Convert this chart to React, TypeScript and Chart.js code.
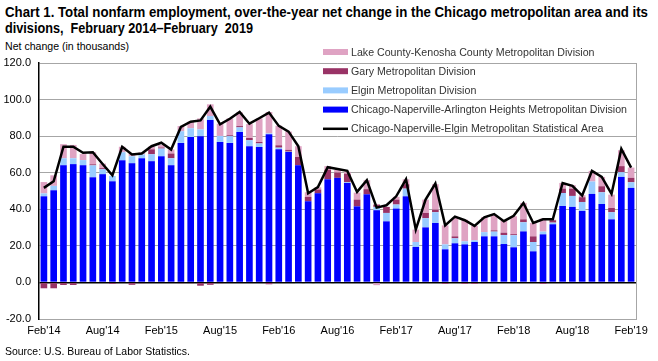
import React, { useEffect, useLayoutEffect, useRef } from "react";
import { Chart, registerables } from "chart.js";

Chart.register(...registerables);

const categories = [
  "Feb'14", "Mar'14", "Apr'14", "May'14", "Jun'14", "Jul'14", "Aug'14", "Sep'14", "Oct'14", "Nov'14", "Dec'14",
  "Jan'15", "Feb'15", "Mar'15", "Apr'15", "May'15", "Jun'15", "Jul'15", "Aug'15", "Sep'15", "Oct'15", "Nov'15", "Dec'15",
  "Jan'16", "Feb'16", "Mar'16", "Apr'16", "May'16", "Jun'16", "Jul'16", "Aug'16", "Sep'16", "Oct'16", "Nov'16", "Dec'16",
  "Jan'17", "Feb'17", "Mar'17", "Apr'17", "May'17", "Jun'17", "Jul'17", "Aug'17", "Sep'17", "Oct'17", "Nov'17", "Dec'17",
  "Jan'18", "Feb'18", "Mar'18", "Apr'18", "May'18", "Jun'18", "Jul'18", "Aug'18", "Sep'18", "Oct'18", "Nov'18", "Dec'18",
  "Jan'19", "Feb'19",
];

const tickLabels = ["Feb'14", "Aug'14", "Feb'15", "Aug'15", "Feb'16", "Aug'16", "Feb'17", "Aug'17", "Feb'18", "Aug'18", "Feb'19"];

const chicagoArlington = [
  47.1, 50.4, 64.1, 64.7, 64.1, 57.5, 59.2, 55.3, 66.8, 65.2, 67.9,
  66.3, 69.0, 64.1, 76.3, 79.5, 80.0, 88.8, 76.8, 76.3, 82.2, 74.5, 74.0,
  81.1, 72.9, 71.3, 64.1, 44.4, 48.8, 56.4, 57.2, 54.4, 41.6, 48.2, 39.5,
  33.4, 40.4, 47.1, 19.4, 30.1, 32.5, 18.1, 21.4, 20.8, 22.1, 25.2, 25.2,
  21.0, 19.2, 27.9, 17.0, 26.3, 31.8, 41.8, 41.3, 39.1, 48.4, 42.9, 34.5,
  57.7, 51.7,
];

const elgin = [
  1.6, 2.4, 3.8, 3.2, 2.8, 6.5, 2.7, 2.9, 4.4, 3.8, 2.1,
  3.8, 4.2, 3.8, 6.4, 4.8, 3.7, 2.2, 3.3, 3.7, 2.6, 3.3, 2.0,
  0.4, 0.8, 0.2, -0.3, -0.3, -0.3, -0.3, -0.3, 0.4, 0.0, 0.0, 1.8,
  4.6, 2.2, 4.2, 2.7, 5.0, 5.9, 2.7, 2.7, 1.7, 0.9, 2.3, 2.6,
  4.9, 6.6, 5.0, 5.1, 1.5, 0.9, 7.1, 6.0, 4.9, 6.8, 6.4, 3.9,
  2.6, 3.1,
];

const gary = [
  -3.2, -3.2, -1.4, -1.4, 0.0, 0.6, 0.6, -0.8, 0.0, -1.3, -0.5,
  2.7, 0.6, 2.6, -0.5, -0.5, -1.8, -1.3, -0.5, 0.5, 0.7, 1.2, 0.8,
  -1.0, 1.3, 1.0, 4.5, 2.4, 2.0, 5.3, 2.9, 4.7, 3.7, 2.8, 1.3,
  3.3, 2.7, 2.4, 0.0, 2.9, 1.4, -0.8, 1.1, -0.8, -0.8, -0.5, 0.7,
  1.3, 0.6, 1.6, 3.1, -0.8, 1.3, 2.4, 4.0, 2.6, 0.0, 3.3, 2.3,
  3.3, 2.4,
];

const lakeKenosha = [
  6.2, 5.8, 7.7, 7.3, 3.3, 6.6, 2.5, 0.0, 3.0, 1.6, 1.1,
  1.5, 1.3, 2.2, 2.8, 3.6, 6.0, 6.4, 6.7, 9.2, 7.5, 7.6, 12.9,
  11.7, 10.7, 10.0, 5.9, 2.5, 1.2, 1.9, 1.4, 1.0, 3.8, 4.9, -1.5,
  0.0, 1.5, 2.7, 6.8, 7.3, 13.9, 10.4, 10.2, 11.8, 7.9, 8.2, 8.4,
  6.5, 9.8, 9.0, 7.3, 7.1, 0.3, 3.1, 1.9, 1.1, 5.8, 5.1, 7.3,
  8.7, 5.6,
];

const msaTotal = [
  51.7, 55.3, 74.2, 74.2, 70.9, 71.2, 64.8, 58.6, 74.2, 70.0, 70.5,
  74.5, 76.4, 72.7, 85.0, 87.9, 88.6, 96.1, 86.5, 89.5, 93.2, 86.8, 89.8,
  92.9, 85.6, 82.5, 74.5, 48.8, 52.1, 63.0, 62.0, 61.0, 49.5, 55.9, 40.9,
  42.2, 47.1, 56.4, 28.9, 45.3, 54.1, 31.2, 36.0, 34.0, 30.9, 35.6, 37.4,
  33.5, 36.4, 43.4, 32.5, 34.5, 34.5, 54.4, 52.8, 47.5, 61.0, 57.7, 48.4,
  73.0, 62.8,
];

const FONT = "'Liberation Sans', Arial, sans-serif";

const legendPlugin = {
  id: "customLegend",
  afterDraw(chart: any) {
    const ctx = chart.ctx;
    const ds = chart.data.datasets;
    // Lake, Gary, Elgin, Chicago-Arlington, MSA line
    const order = [3, 2, 1, 0, 4];
    const x0 = 323;
    const y0 = 52;
    const step = 19.2;
    ctx.save();
    ctx.font = "11px " + FONT;
    ctx.textBaseline = "middle";
    ctx.textAlign = "left";
    const w = ctx.measureText(ds[0].label).width;
    const sx = 276 / w;
    order.forEach((di: number, k: number) => {
      const d = ds[di];
      const y = y0 + k * step;
      if (d.type === "line") {
        ctx.strokeStyle = d.borderColor;
        ctx.lineWidth = 2.5;
        ctx.beginPath();
        ctx.moveTo(x0, y);
        ctx.lineTo(x0 + 25, y);
        ctx.stroke();
      } else {
        ctx.fillStyle = d.backgroundColor;
        ctx.fillRect(x0, y - 3, 25, 6);
      }
      ctx.save();
      ctx.translate(x0 + 28, y + 0.5);
      ctx.scale(sx, 1);
      ctx.fillStyle = "#333";
      ctx.fillText(d.label, 0, 0);
      ctx.restore();
    });
    ctx.restore();
  },
};

const borderPlugin = {
  id: "rightBorder",
  beforeDatasetsDraw(chart: any) {
    const { ctx, chartArea } = chart;
    ctx.save();
    ctx.strokeStyle = "#A6A6A6";
    ctx.lineWidth = 1;
    ctx.beginPath();
    ctx.moveTo(Math.round(chartArea.right) + 0.5, chartArea.top);
    ctx.lineTo(Math.round(chartArea.right) + 0.5, chartArea.bottom);
    ctx.stroke();
    ctx.restore();
  },
};

function FitText(props: { target: number; style: React.CSSProperties; children: React.ReactNode }) {
  const ref = useRef<HTMLSpanElement | null>(null);
  useLayoutEffect(() => {
    const el = ref.current;
    if (!el) return;
    el.style.transform = "none";
    const w = el.getBoundingClientRect().width;
    if (w > 0) el.style.transform = `scaleX(${props.target / w})`;
  }, [props.target]);
  return (
    <span
      ref={ref}
      style={{ position: "absolute", whiteSpace: "nowrap", transformOrigin: "0 0", display: "inline-block", ...props.style }}
    >
      {props.children}
    </span>
  );
}

export default function App() {
  const ref = useRef<HTMLCanvasElement | null>(null);

  useEffect(() => {
    if (!ref.current) return;
    const barCommon = {
      type: "bar" as const,
      stack: "bars",
      order: 1,
      barPercentage: 0.68,
      categoryPercentage: 1,
      borderWidth: 0,
    };
    const chart = new Chart(ref.current, {
      type: "bar",
      data: {
        labels: categories,
        datasets: [
          { ...barCommon, label: "Chicago-Naperville-Arlington Heights Metropolitan Division", data: chicagoArlington, backgroundColor: "#0000FF" },
          { ...barCommon, label: "Elgin Metropolitan Division", data: elgin, backgroundColor: "#99CCFF" },
          { ...barCommon, label: "Gary Metropolitan Division", data: gary, backgroundColor: "#993366" },
          { ...barCommon, label: "Lake County-Kenosha County Metropolitan Division", data: lakeKenosha, backgroundColor: "#DFA3C3" },
          {
            type: "line" as const,
            label: "Chicago-Naperville-Elgin Metropolitan Statistical Area",
            data: msaTotal,
            stack: "line",
            order: 0,
            borderColor: "#000000",
            backgroundColor: "#000000",
            borderWidth: 2.5,
            pointRadius: 0,
            tension: 0,
            fill: false,
          } as any,
        ],
      },
      options: {
        responsive: false,
        animation: false,
        devicePixelRatio: 1,
        layout: { padding: { left: 0, right: 22, top: 63, bottom: 22 } },
        plugins: {
          legend: { display: false },
          tooltip: { enabled: false },
          title: { display: false },
        },
        scales: {
          x: {
            stacked: true,
            grid: { display: false, drawTicks: false },
            border: { display: true, color: "#A6A6A6", width: 1 },
            ticks: {
              autoSkip: false,
              maxRotation: 0,
              minRotation: 0,
              padding: 5,
              color: "#000",
              font: { family: FONT, size: 11 },
              callback: (_v: any, i: number) => (tickLabels.includes(categories[i]) ? categories[i] : ""),
            },
            afterFit: (s: any) => { s.height = 20; },
          },
          y: {
            stacked: true,
            min: -20,
            max: 120,
            ticks: {
              stepSize: 20,
              padding: 8,
              color: "#000",
              font: { family: FONT, size: 11 },
              callback: (v: any) => Number(v).toFixed(1),
            },
            grid: {
              drawTicks: false,
              color: (c: any) => (c.tick && c.tick.value === 0 ? "#000000" : "#A6A6A6"),
              lineWidth: (c: any) => (c.tick && c.tick.value === 0 ? 1.5 : 1),
            },
            border: { display: true, color: "#000", width: 1.5 },
            afterFit: (s: any) => { s.width = 39; },
          },
        },
      },
      plugins: [borderPlugin, legendPlugin],
    } as any);
    return () => chart.destroy();
  }, []);

  return (
    <div style={{ position: "absolute", left: 0, top: 0, width: 658, height: 361, background: "#fff", fontFamily: FONT, color: "#000" }}>
      <FitText target={643} style={{ left: 5, top: 4, fontWeight: "bold", fontSize: 15, lineHeight: "16px" }}>
        Chart 1. Total nonfarm employment, over-the-year net change in the Chicago metropolitan area and its
      </FitText>
      <FitText target={248} style={{ left: 5, top: 20, fontWeight: "bold", fontSize: 15, lineHeight: "16px" }}>
        divisions,&nbsp; February 2014–February&nbsp; 2019
      </FitText>
      <FitText target={124} style={{ left: 5, top: 40, fontSize: 11, lineHeight: "13px" }}>
        Net change (in thousands)
      </FitText>
      <canvas ref={ref} width={658} height={361} style={{ position: "absolute", left: 0, top: 0, width: 658, height: 361 }} />
      <FitText target={185} style={{ left: 5, top: 345, fontSize: 11, lineHeight: "13px" }}>
        Source: U.S. Bureau of Labor Statistics.
      </FitText>
    </div>
  );
}
